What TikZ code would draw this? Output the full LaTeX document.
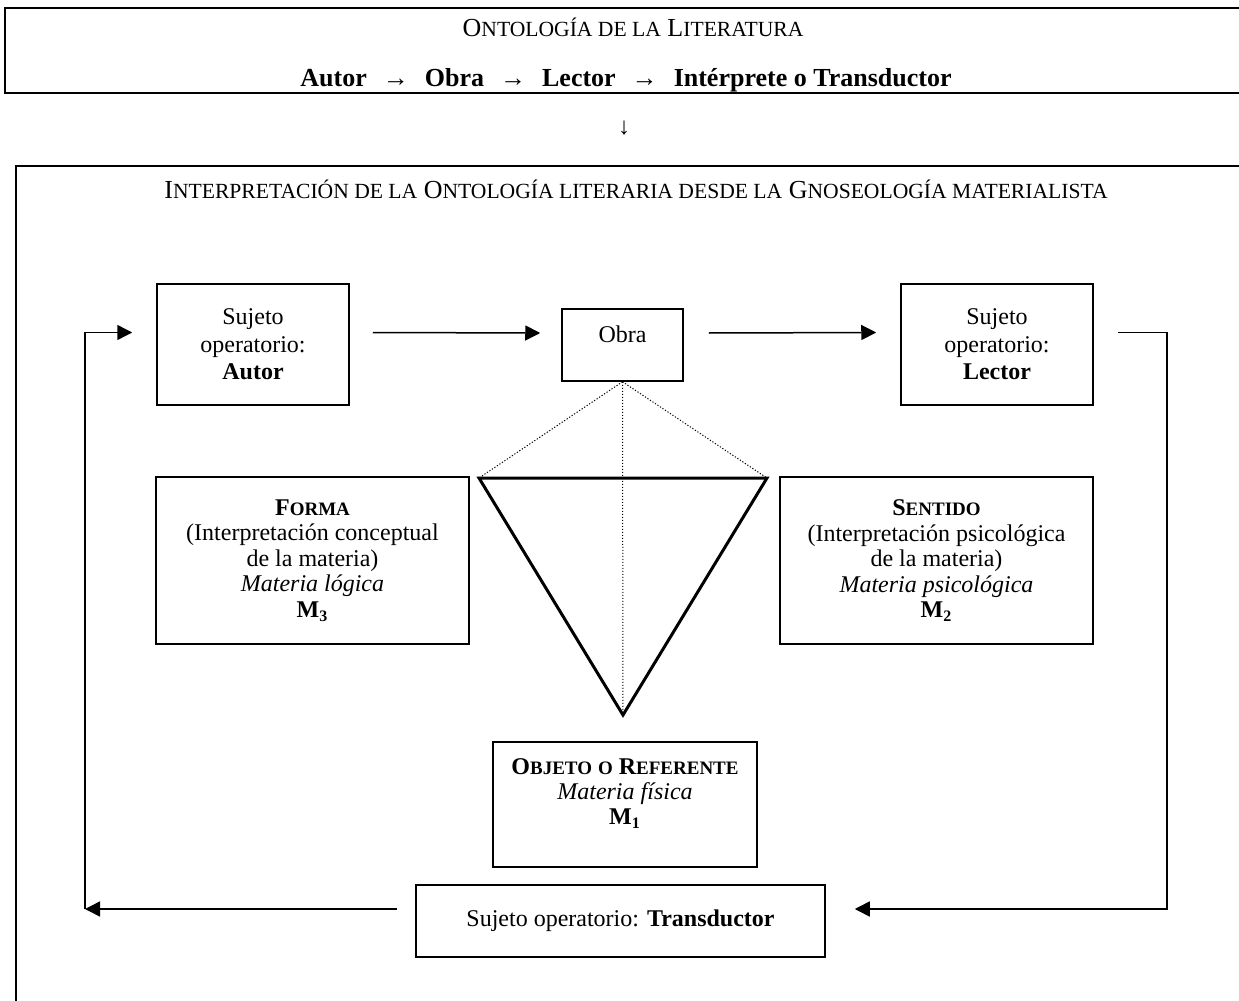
\documentclass[tikz,border=0pt]{standalone}
\usepackage{fontspec}
\setmainfont{Liberation Serif}
\usetikzlibrary{arrows.meta}
\newcommand{\versalita}[1]{{\fontsize{9.5}{12}\selectfont #1}}
\newcommand{\versalitaT}[1]{{\fontsize{10.8}{13}\selectfont #1}}
\newcommand{\hacia}{\hspace{8pt}→\hspace{8pt}}

\begin{document}
\begin{tikzpicture}[
        x=0.5pt, y=-0.5pt,
        marco/.style={draw, line width=1pt, inner sep=0pt},
        titulo/.style={anchor=base, inner sep=0pt, font=\fontsize{13}{13}\selectfont},
        caja/.style={draw, line width=0.75pt, inner sep=0pt, align=center, font=\fontsize{12}{13.75}\selectfont},
        cajaM/.style={caja, font=\fontsize{12}{12.75}\selectfont},
        flecha/.style={-{Triangle[length=7.5pt, width=7.5pt]}, line width=0.75pt},
        triangulo/.style={line width=1.5pt, line join=miter},
        punteado/.style={line width=0.5pt, dash pattern=on 0.6pt off 0.9pt}
    ]
        \useasboundingbox (0,0) rectangle (1239,1001);

        % cuadro superior
        \node[marco, minimum width=642.5pt, minimum height=42.5pt] (ontologia) at (647.5,50.5) {};
        \node[titulo] (ontoTitulo) at (633,37)
            {O\versalitaT{NTOLOGÍA DE LA} L\versalitaT{ITERATURA}};
        \node[titulo] (ontoCadena) at (626,86)
            {\textbf{Autor\hacia Obra\hacia Lector\hacia Intérprete o Transductor}};
        \node[font=\fontsize{12}{12}\selectfont] (baja) at (624,128) {↓};

        % cuadro inferior
        \node[marco, minimum width=632pt, minimum height=467.5pt, anchor=north west] (marco) at (15,165) {};
        \node[titulo] (gnoseologia) at (636,198)
            {I\versalitaT{NTERPRETACIÓN DE LA} O\versalitaT{NTOLOGÍA LITERARIA DESDE LA} G\versalitaT{NOSEOLOGÍA MATERIALISTA}};

        \node[caja, minimum width=96pt, minimum height=60.5pt] (autor) at (253,344.5) {Sujeto\\operatorio:\\\textbf{Autor}};
        \node[caja, minimum width=60.5pt, minimum height=36pt, text height=8pt, text depth=11pt] (obra) at (622.5,345) {Obra};
        \node[caja, minimum width=96pt, minimum height=60.5pt] (lector) at (997,344.5) {Sujeto\\operatorio:\\\textbf{Lector}};

        \node[cajaM, minimum width=156.5pt, minimum height=83.5pt] (forma) at (312.5,560.5)
            {\textbf{F\versalita{ORMA}}\\(Interpretación conceptual\\de la materia)\\\textit{Materia lógica}\\\textbf{M\textsubscript{3}}};
        \node[cajaM, minimum width=156.5pt, minimum height=83.5pt] (sentido) at (936.5,560.5)
            {\textbf{S\versalita{ENTIDO}}\\(Interpretación psicológica\\de la materia)\\\textit{Materia psicológica}\\\textbf{M\textsubscript{2}}};
        \node[caja, font=\fontsize{12}{12.5}\selectfont, minimum width=132pt, minimum height=62.5pt] (objeto) at (625,804.5)
            {\textbf{O\versalita{BJETO} \versalita{O} R\versalita{EFERENTE}}\\\textit{Materia física}\\\textbf{M\textsubscript{1}}\\\mbox{}};
        \node[caja, minimum width=204.5pt, minimum height=36pt] (trans) at (620.5,921) {Sujeto operatorio: \textbf{Transductor}};

        % triangulo semantico
        \coordinate (tA) at (479,478);
        \coordinate (tB) at (767,478);
        \coordinate (tC) at (623,715);
        \draw[triangulo] (tA) -- (tB) -- (tC) -- cycle;
        \draw[punteado] (obra.south) -- (tA);
        \draw[punteado] (obra.south) -- (tB);
        \draw[punteado] (obra.south) -- (tC);

        % flechas
        \coordinate (esqI) at (85,909);
        \draw[flecha] ([xshift=11.5pt,yshift=6pt]autor.east) -- ([xshift=-10.5pt,yshift=6pt]obra.west);
        \draw[flecha] ([xshift=12.5pt,yshift=6pt]obra.east) -- ([xshift=-12pt,yshift=6pt]lector.west);
        \draw[flecha] ([xshift=12pt,yshift=6pt]lector.east) -- ++(49,0) |- ([xshift=14.5pt,yshift=6pt]trans.east);
        \draw[flecha] ([xshift=-9pt,yshift=6pt]trans.west) -- (esqI);
        \draw[flecha] (esqI) |- ([xshift=-12pt,yshift=6pt]autor.west);
    \end{tikzpicture}
\end{document}
